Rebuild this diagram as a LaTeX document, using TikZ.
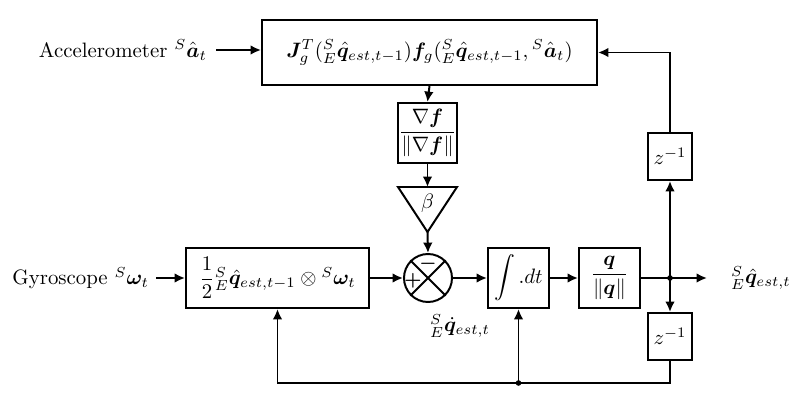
\documentclass[tikz,border=0pt]{standalone}
\usepackage{amsmath,bm}
\usetikzlibrary{arrows.meta,calc}
\newdimen\px \px=0.48pt
\begin{document}
\begin{tikzpicture}[x=0.48pt,y=-0.48pt,>={Latex[length=5pt,width=4.6pt]},line width=0.95pt,
  blk/.style={draw,line width=0.95pt,inner sep=0pt,align=center},
  lbl/.style={inner sep=0pt}]
\useasboundingbox (0,0) rectangle (801,416);
% blocks
\node[blk,minimum width=335*\px,minimum height=65*\px] (J) at (429.5,52.5)
  {$\bm{J}_g^T({}^S_E\hat{\bm{q}}_{est,t-1})\bm{f}_g({}^S_E\hat{\bm{q}}_{est,t-1},{}^S\hat{\bm{a}}_t)$};
\node[blk,minimum width=59*\px,minimum height=60*\px] (grad) at (427.5,133) {$\dfrac{\nabla\bm{f}}{\|\nabla\bm{f}\|}$};
\node[lbl] (beta) at (427.5,203) {$\beta$};
\coordinate (btop) at (427.5,187);
\coordinate (bbot) at (427.5,232);
\draw (398,187) -- (457,187) -- (bbot) -- cycle;
\node[blk,minimum width=183*\px,minimum height=60*\px] (L) at (277.5,278)
  {$\dfrac{1}{2}{}^S_E\hat{\bm{q}}_{est,t-1}\otimes{}^S\bm{\omega}_t$};
\node[circle,draw,minimum size=48*\px,inner sep=0pt] (sum) at (428,278) {};
\draw (sum.north west) -- (sum.south east) (sum.north east) -- (sum.south west);
\node[lbl,font=\small] (plus) at (413,281) {$\bm{+}$};
\node[lbl,font=\small] (minus) at (428,264) {$\bm{-}$};
\node[blk,minimum width=61*\px,minimum height=60*\px] (int) at (518.5,278) {$\displaystyle\int .dt$};
\node[blk,minimum width=61*\px,minimum height=60*\px] (norm) at (609.5,278) {$\dfrac{\bm{q}}{\|\bm{q}\|}$};
\node[blk,minimum width=44*\px,minimum height=47*\px] (zu) at (670,156.5) {$z^{-1}$};
\node[blk,minimum width=44*\px,minimum height=47*\px] (zl) at (670,336.5) {$z^{-1}$};
% labels
\node[lbl,anchor=east] (acc) at (208,50) {Accelerometer ${}^S\hat{\bm{a}}_t$};
\node[lbl,anchor=east] (gyro) at (150,278) {Gyroscope ${}^S\bm{\omega}_t$};
\node[lbl,anchor=west] (qout) at (730,278) {${}^S_E\hat{\bm{q}}_{est,t}$};
\node[lbl] (dq) at (460,326) {${}^S_E\dot{\bm{q}}_{est,t}$};
% coordinates
\coordinate (accs) at (216,50);
\coordinate (gyros) at (156,278);
\coordinate (jn) at (670,278);
\coordinate (oend) at (707,278);
\coordinate (cb) at (670,383);
\coordinate (bj) at (518.5,383);
% connectors
\draw[->] (accs) -- (accs -| J.west);
\draw[->] (J.south) -- (grad.north);
\draw[->] (grad.south) -- (btop);
\draw[->] (bbot) -- (sum.north);
\draw[->] (gyros) -- (L.west);
\draw[->] (L.east) -- (sum.west);
\draw[->] (sum.east) -- (int.west);
\draw[->] (int.east) -- (norm.west);
\draw (norm.east) -- (jn);
\draw[->] (jn) -- (oend);
\draw[->] (jn) -- (zu.south);
\draw[->] (zu.north) |- (J.east);
\draw[->] (jn) -- (zl.north);
\draw[->] (zl.south) -- (cb) -| (L.south);
\draw[->] (bj) -- (int.south);
\fill (jn) circle (2.8);
\fill (bj) circle (2.8);
\end{tikzpicture}
\end{document}
